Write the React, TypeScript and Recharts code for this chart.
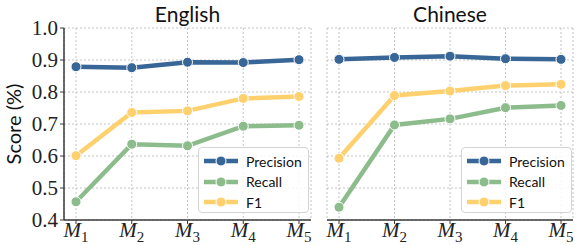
import { LineChart, Line, XAxis, YAxis, CartesianGrid, Legend } from "recharts";

const categories = ["1", "2", "3", "4", "5"];
const yTicks = [0.4, 0.5, 0.6, 0.7, 0.8, 0.9, 1.0];

const enPrecision = [0.879, 0.876, 0.893, 0.892, 0.901];
const enRecall = [0.457, 0.637, 0.632, 0.693, 0.696];
const enF1 = [0.601, 0.736, 0.741, 0.78, 0.786];

const zhPrecision = [0.902, 0.908, 0.912, 0.904, 0.902];
const zhRecall = [0.44, 0.697, 0.716, 0.751, 0.758];
const zhF1 = [0.593, 0.789, 0.803, 0.82, 0.824];

const seriesNames = ["Precision", "Recall", "F1"];
const seriesColors = ["#386696", "#8cbc8c", "#ffd06e"];

const SANS = "Lato, 'Open Sans', sans-serif";
const SERIF = "'Liberation Serif', 'DejaVu Serif', serif";
const SPINE = "#3a3a3a";

function MTick(props: any) {
  const { x, y, payload } = props;
  return (
    <text x={x} y={y} textAnchor="middle" fontFamily={SERIF} fill="#222">
      <tspan fontStyle="italic" fontSize={21} dy={11}>
        M
      </tspan>
      <tspan fontSize={15} dy={5}>
        {payload.value}
      </tspan>
    </text>
  );
}

function LegendBox(props: any) {
  // keep the series order (recharts sorts legend items by name)
  const items = [...(props.payload || [])].sort(
    (a: any, b: any) => seriesNames.indexOf(a.value) - seriesNames.indexOf(b.value)
  );
  return (
    <div
      style={{
        boxSizing: "border-box",
        width: 111,
        height: 66,
        border: "1px solid #d4d4d4",
        borderRadius: 4,
        background: "rgba(255,255,255,0.85)",
        padding: "3px 0 0 3px",
      }}
    >
      {items.map((it: any) => (
        <div key={it.value} style={{ display: "flex", alignItems: "center", height: 20.5 }}>
          <svg width={40} height={14}>
            <line x1={2} y1={7} x2={36} y2={7} stroke={it.color} strokeWidth={4.5} />
            <circle cx={19} cy={7} r={5} fill={it.color} stroke="#fff" strokeWidth={1} />
          </svg>
          <span style={{ fontFamily: SANS, fontSize: 14, color: "#111", marginLeft: 4 }}>{it.value}</span>
        </div>
      ))}
    </div>
  );
}

interface PanelProps {
  title: string;
  precision: number[];
  recall: number[];
  f1: number[];
  left: number;
  width: number;
  marginLeft: number;
  marginRight: number;
  yAxisWidth: number;
  showYLabels: boolean;
  legendLeft: number;
}

function Panel(p: PanelProps) {
  const data = categories.map((m, i) => ({
    m,
    Precision: p.precision[i],
    Recall: p.recall[i],
    F1: p.f1[i],
  }));
  const plotLeft = p.marginLeft + p.yAxisWidth;
  const plotWidth = p.width - plotLeft - p.marginRight;
  return (
    <div style={{ position: "absolute", left: p.left, top: 0, width: p.width, height: 245 }}>
      <div
        style={{
          position: "absolute",
          left: plotLeft,
          width: plotWidth,
          top: 1,
          textAlign: "center",
          fontFamily: SANS,
          fontSize: 21,
          color: "#111",
        }}
      >
        {p.title}
      </div>
      <LineChart
        width={p.width}
        height={245}
        data={data}
        margin={{ top: 28, right: p.marginRight, bottom: 0, left: p.marginLeft }}
        style={{ overflow: "visible" }}
      >
        <CartesianGrid stroke="#b5b5b5" strokeDasharray="2 2" strokeWidth={0.8} />
        <XAxis
          dataKey="m"
          height={25}
          padding={{ left: 12, right: 12 }}
          tick={<MTick />}
          tickSize={4}
          tickMargin={2}
          tickLine={{ stroke: SPINE }}
          axisLine={{ stroke: SPINE, strokeWidth: 1.5 }}
          interval={0}
        />
        <XAxis
          xAxisId="top"
          orientation="top"
          dataKey="m"
          height={0}
          tick={false}
          tickLine={false}
          axisLine={{ stroke: SPINE, strokeWidth: 1.5 }}
        />
        <YAxis
          domain={[0.4, 1.0]}
          ticks={yTicks}
          width={p.yAxisWidth}
          tickSize={4}
          tickMargin={2}
          tickLine={{ stroke: SPINE }}
          axisLine={{ stroke: SPINE, strokeWidth: 1.5 }}
          tickFormatter={(v: number) => v.toFixed(1)}
          tick={p.showYLabels ? { fontFamily: SERIF, fontSize: 21, fill: "#222" } : () => <g />}
          label={
            p.showYLabels
              ? {
                  value: "Score (%)",
                  angle: -90,
                  position: "insideLeft",
                  offset: 14,
                  style: { textAnchor: "middle", fontFamily: SANS, fontSize: 20, fill: "#111" },
                }
              : undefined
          }
        />
        <YAxis
          yAxisId="right"
          orientation="right"
          domain={[0.4, 1.0]}
          width={0}
          tick={false}
          tickLine={false}
          axisLine={{ stroke: SPINE, strokeWidth: 1.5 }}
        />
        <Legend
          layout="vertical"
          align="center"
          verticalAlign="middle"
          content={<LegendBox />}
          wrapperStyle={{ left: p.legendLeft, top: 147, width: 111, height: 66 }}
        />
        {seriesNames.map((name, i) => (
          <Line
            key={name}
            dataKey={name}
            stroke={seriesColors[i]}
            strokeWidth={4.5}
            dot={{ r: 5, fill: seriesColors[i], stroke: "#fff", strokeWidth: 1, fillOpacity: 1 }}
            isAnimationActive={false}
          />
        ))}
      </LineChart>
    </div>
  );
}

export default function App() {
  return (
    <div style={{ position: "absolute", left: 0, top: 0, width: 576, height: 245, background: "#fff" }}>
      <Panel
        title="English"
        precision={enPrecision}
        recall={enRecall}
        f1={enF1}
        left={0}
        width={320}
        marginLeft={0}
        marginRight={9}
        yAxisWidth={64}
        showYLabels={true}
        legendLeft={198}
      />
      <Panel
        title="Chinese"
        precision={zhPrecision}
        recall={zhRecall}
        f1={zhF1}
        left={320}
        width={256}
        marginLeft={7}
        marginRight={3}
        yAxisWidth={0}
        showYLabels={false}
        legendLeft={141}
      />
    </div>
  );
}
